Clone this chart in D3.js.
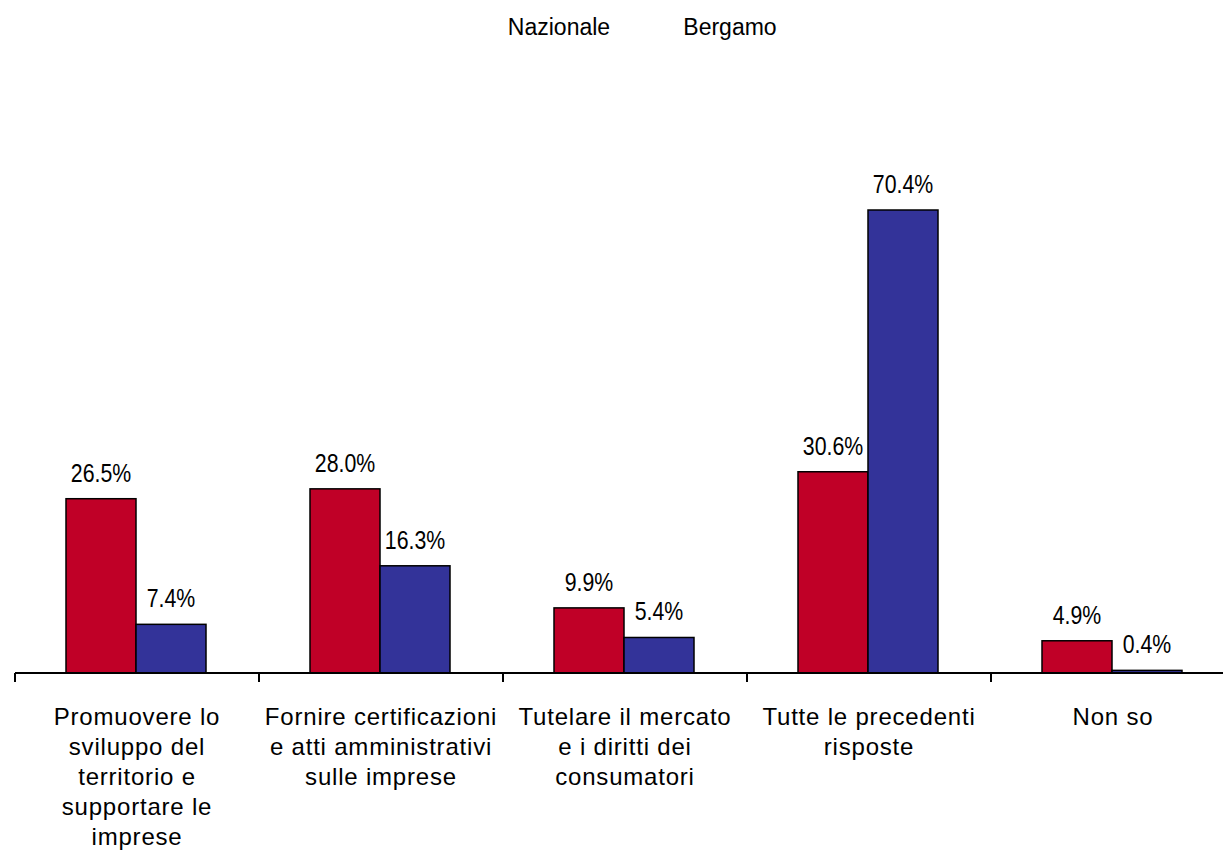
<!DOCTYPE html>
<html>
<head>
<meta charset="utf-8">
<script src="https://cdn.jsdelivr.net/npm/d3@7"></script>
<style>
  body { margin: 0; background: #fff; }
  text { font-family: "Liberation Sans", Arial, sans-serif; fill: #000; }
</style>
</head>
<body>
<div id="chart"></div>
<script>
// Data
const categories = [
    ["Promuovere lo", "sviluppo del", "territorio e", "supportare le", "imprese"],
    ["Fornire certificazioni", "e atti amministrativi", "sulle imprese"],
    ["Tutelare il mercato", "e i diritti dei", "consumatori"],
    ["Tutte le precedenti", "risposte"],
    ["Non so"]
];
const seriesNames = ["Nazionale", "Bergamo"];
const nazionale = [26.5, 28.0, 9.9, 30.6, 4.9];
const bergamo = [7.4, 16.3, 5.4, 70.4, 0.4];
const colors = ["#c00027", "#333399"];

const W = 1223, H = 866;
const svg = d3.select("#chart").append("svg")
    .attr("width", W)
    .attr("height", H);

const baseline = 673;
const left = 15;
const step = 244;

// Scales
const x = d3.scaleBand()
    .domain(d3.range(categories.length))
    .range([left, left + step * categories.length])
    .paddingInner(0)
    .paddingOuter(0);

const inner = d3.scaleBand()
    .domain(seriesNames)
    .range([51, 51 + 140]);

const y = d3.scaleLinear()
    .domain([0, 70.4])
    .range([baseline, 210]);

// Legend (text only, no swatches)
const legendX = [559, 730];
seriesNames.forEach((name, i) => {
    svg.append("text")
        .attr("x", legendX[i])
        .attr("y", 35)
        .attr("text-anchor", "middle")
        .style("font-size", "23px")
        .text(name);
});

// Bars
const rows = categories.map((c, i) => ({ i, values: [nazionale[i], bergamo[i]] }));

rows.forEach(row => {
    row.values.forEach((v, s) => {
        const bx = x(row.i) + inner(seriesNames[s]);
        const bw = inner.bandwidth();
        svg.append("rect")
            .attr("x", bx)
            .attr("y", y(v))
            .attr("width", bw)
            .attr("height", baseline - y(v))
            .attr("fill", colors[s])
            .attr("stroke", "#000")
            .attr("stroke-width", 1.5);

        // narrow, tall value labels
        svg.append("text")
            .attr("transform", `translate(${bx + bw / 2},${y(v) - 17}) scale(0.82,1)`)
            .attr("text-anchor", "middle")
            .style("font-size", "26px")
            .text(v.toFixed(1) + "%");
    });
});

// Axis line and ticks
svg.append("line")
    .attr("x1", left)
    .attr("x2", W)
    .attr("y1", baseline)
    .attr("y2", baseline)
    .attr("stroke", "#000")
    .attr("stroke-width", 2);

d3.range(categories.length).forEach(i => {
    svg.append("line")
        .attr("x1", x(i))
        .attr("x2", x(i))
        .attr("y1", baseline)
        .attr("y2", baseline + 9)
        .attr("stroke", "#000")
        .attr("stroke-width", 2);
});

// Category labels
categories.forEach((lines, i) => {
    const cx = x(i) + x.bandwidth() / 2;
    const t = svg.append("text")
        .attr("x", cx)
        .attr("y", 725)
        .attr("text-anchor", "middle")
        .style("font-size", "24px")
        .style("letter-spacing", "0.8px");
    lines.forEach((ln, j) => {
        t.append("tspan")
            .attr("x", cx)
            .attr("dy", j === 0 ? 0 : 30)
            .text(ln);
    });
});
</script>
</body>
</html>
